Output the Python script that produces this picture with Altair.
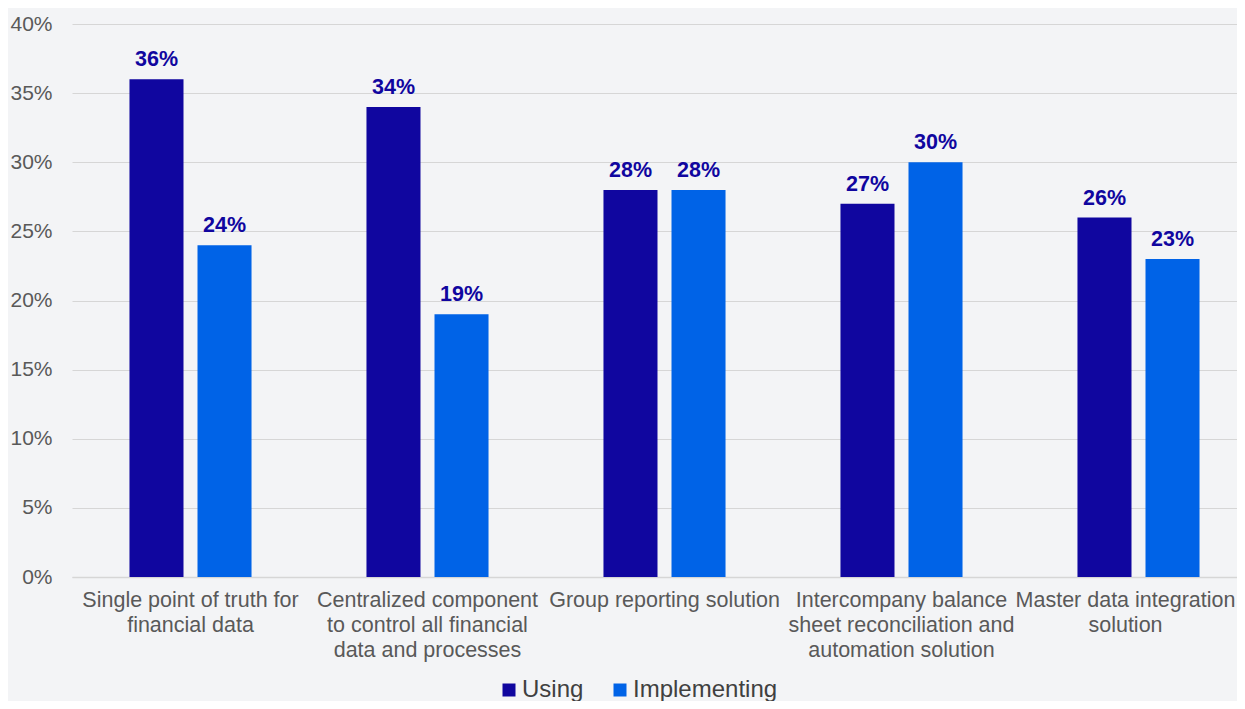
import altair as alt
import pandas as pd

categories = [
    "Single point of truth for\nfinancial data",
    "Centralized component\nto control all financial\ndata and processes",
    "Group reporting solution",
    "Intercompany balance\nsheet reconciliation and\nautomation solution",
    "Master data integration\nsolution",
]
series = ["Using", "Implementing"]
using = [36, 34, 28, 27, 26]
implementing = [24, 19, 28, 30, 23]
colors = ["#10069f", "#0063e7"]
y_ticks = [0, 0.05, 0.10, 0.15, 0.20, 0.25, 0.30, 0.35, 0.40]

rows = []
for i, c in enumerate(categories):
    rows.append({"category": c, "series": "Using", "value": using[i] / 100})
    rows.append({"category": c, "series": "Implementing", "value": implementing[i] / 100})
df = pd.DataFrame(rows)

font = "Liberation Sans"

x = alt.X(
    "category:N",
    sort=categories,
    scale=alt.Scale(range=[0, 1185], paddingInner=0.485, paddingOuter=0.2425),
    axis=alt.Axis(
        title=None, labelAngle=0, labelExpr="split(datum.value, '\\n')",
        ticks=False, domain=True, domainColor="#d6d6d6", domainWidth=1.5,
        labelPadding=12, labelFontSize=21.5, labelLineHeight=25, labelColor="#595959",
        labelLimit=400, labelOverlap=False, labelFont=font, grid=False,
        labelBaseline="top",
        labelOffset={"condition": {"test": "datum.index >= 1", "value": -13}, "value": 0},
    ),
)
xo = alt.XOffset("series:N", sort=series, scale=alt.Scale(paddingInner=0.206, paddingOuter=0))
y = alt.Y(
    "value:Q",
    scale=alt.Scale(domain=[0, 0.40], nice=False),
    axis=alt.Axis(
        title=None, format=".0%", values=y_ticks, domain=False, ticks=False,
        grid=True, gridColor="#d6d6d6", gridWidth=1, labelPadding=20,
        labelFontSize=21, labelColor="#595959", labelFont=font,
    ),
)

bars = alt.Chart(df).mark_bar().encode(
    x=x, xOffset=xo, y=y,
    color=alt.Color(
        "series:N", sort=series,
        scale=alt.Scale(domain=series, range=colors),
        legend=alt.Legend(
            title=None, orient="none", legendX=425, legendY=654, direction="horizontal",
            symbolType="square", symbolSize=169, symbolStrokeWidth=0,
            labelFontSize=24, labelFont=font, labelColor="#404040",
            labelOffset=1, columnPadding=24,
        ),
    ),
)

labels = alt.Chart(df).mark_text(
    baseline="alphabetic", dy=-13, fontWeight="bold", fontSize=21.5,
    color="#10069f", font=font,
).encode(
    x=x, xOffset=xo, y=y,
    text=alt.Text("value:Q", format=".0%"),
)

chart = (
    alt.layer(bars, labels)
    .properties(
        width=1165, height=553,
        autosize=alt.AutoSizeParams(type="none"),
        padding={"left": 64, "top": 16, "right": 0, "bottom": 124},
        background="#f3f4f6",
    )
    .configure_view(stroke=None)
)

chart.save("out.html", embed_options={"renderer": "svg", "actions": False})
